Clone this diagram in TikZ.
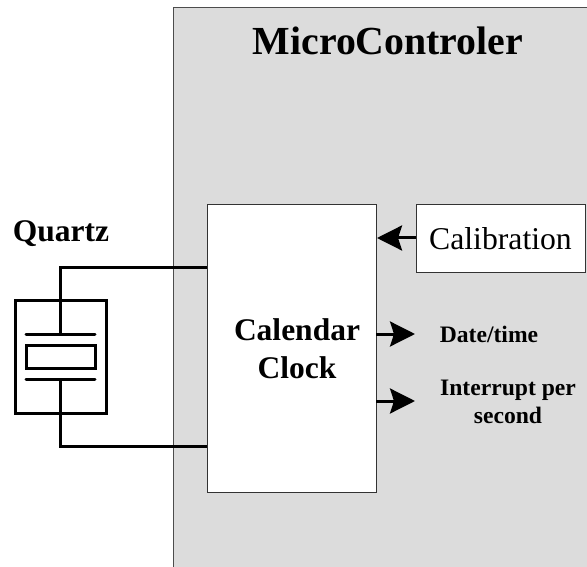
\documentclass[tikz,border=0pt]{standalone}
\usepackage{fontspec}
\setmainfont{Liberation Serif}
\usetikzlibrary{arrows.meta}
\definecolor{panelgray}{RGB}{220,220,220}
\tikzset{
  x=1pt,y=-1pt,
  boxst/.style={draw=black!80,fill=white,line width=1pt,inner sep=0pt,outer sep=0pt,anchor=north west},
  qshape/.style={draw=black,line width=3pt,fill=white,inner sep=0pt,outer sep=0pt,anchor=north west},
  wire/.style={draw=black,line width=3pt,line join=miter},
  bigarrow/.style={draw=black,line width=3pt,-{Stealth[length=25pt,width=25pt,inset=4pt]}},
  lbl/.style={font=\bfseries,align=center,inner sep=0pt,text=black},
}
\begin{document}
\begin{tikzpicture}
\useasboundingbox (0,0) rectangle (587,567);
\fill[white] (0,0) rectangle (587,567);
% panel
\fill[panelgray] (173.5,7.5) rectangle (587,567);
\draw[black!70,line width=1pt] (587,7.5) -- (173.5,7.5) -- (173.5,567);
% boxes
\node[boxst,minimum width=169.5pt,minimum height=287pt] (clock) at (207,205) {};
\node[boxst,minimum width=169pt,minimum height=67pt] (calib) at (416,205) {};
\node at (calib.center) [font=\fontsize{31.7}{36}\selectfont,inner sep=0pt] (caltext) {Calibration};
% quartz
\node[qshape,minimum width=91pt,minimum height=113pt] (qbox) at (15,300) {};
\node[qshape,minimum width=69pt,minimum height=23pt] (crystal) at (26,345) {};
\coordinate (ptl) at (26,334); \coordinate (ptr) at (95,334);
\coordinate (pbl) at (26,379); \coordinate (pbr) at (95,379);
\coordinate (ptm) at (60,334); \coordinate (pbm) at (60,379);
\coordinate (cwt) at (clock.west |- 0,267); \coordinate (cwb) at (clock.west |- 0,446);
\draw[wire,line cap=round] (ptl) -- (ptr);
\draw[wire,line cap=round] (pbl) -- (pbr);
\draw[wire] (ptm) |- (cwt);
\draw[wire] (pbm) |- (cwb);
% arrows
\coordinate (calin) at (377,238);
\coordinate (calout) at (416,238);
\draw[bigarrow] (calout) -- (calin);
\coordinate (dstart) at (376,334); \coordinate (dend) at (415,334);
\coordinate (istart) at (376,401); \coordinate (iend) at (415,401);
\draw[bigarrow] (dstart) -- (dend);
\draw[bigarrow] (istart) -- (iend);
% labels
\node[lbl,font=\bfseries\fontsize{39.8}{42}\selectfont] (title) at (388,41) {MicroControler};
\node[lbl,font=\bfseries\fontsize{31.5}{32}\selectfont] (qlabel) at (61,234) {Quartz};
\node[lbl,font=\bfseries\fontsize{31.5}{38}\selectfont] (cclabel) at (297,349) {Calendar\\Clock};
\node[lbl,font=\bfseries\fontsize{23.6}{28}\selectfont] (dlabel) at (489,334) {Date/time};
\node[lbl,font=\bfseries\fontsize{23.6}{28}\selectfont] (ilabel) at (508,402) {Interrupt per\\second};
\end{tikzpicture}
\end{document}
